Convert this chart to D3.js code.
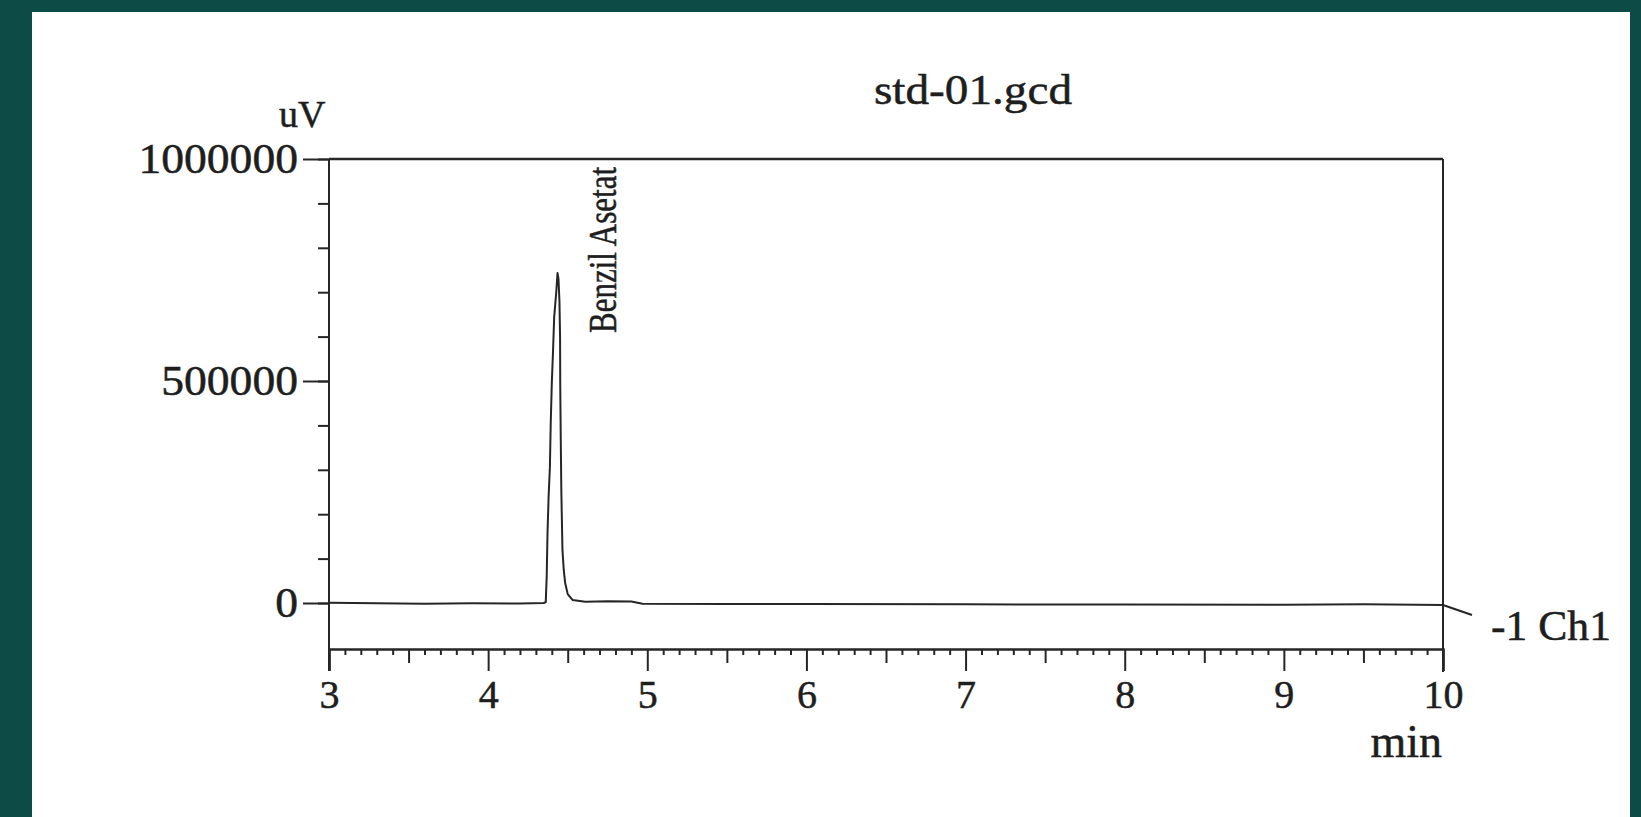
<!DOCTYPE html>
<html>
<head>
<meta charset="utf-8">
<script src="https://cdn.jsdelivr.net/npm/d3@7"></script>
<style>
  html, body { margin: 0; padding: 0; background: #0c4b46; }
  svg { display: block; }
  text { font-family: "Liberation Serif", "DejaVu Serif", serif; fill: #1e1e1e; stroke: #1e1e1e; stroke-width: 0.5; }
</style>
</head>
<body>
<svg id="chart" width="1641" height="817"></svg>
<script>
// ---- data ----
const chartTitle = "std-01.gcd";
const yUnit = "uV";
const xUnit = "min";
const channelLabel = "-1 Ch1";
const peakName = "Benzil Asetat";
const peakTime = 4.436;
const peakHeight = 743000;

const xMajorTicks = [3, 4, 5, 6, 7, 8, 9, 10];
const yMajorTicks = [0, 500000, 1000000];
const yMinorTicks = [0, 100000, 200000, 300000, 400000, 500000, 600000, 700000, 800000, 900000, 1000000];

const times = [3.00, 3.30, 3.60, 3.90, 4.20, 4.35, 4.362, 4.368, 4.373, 4.380, 4.388, 4.393, 4.400, 4.408, 4.415,
               4.428, 4.436, 4.442, 4.448, 4.452, 4.453, 4.456, 4.460, 4.467, 4.475, 4.484, 4.500, 4.530, 4.610,
               4.750, 4.900, 4.970, 5.50, 6.00, 7.00, 8.00, 9.00, 9.50, 10.00];
const signal = [500, -500, -1500, -500, -1000, 0, 2000, 60000, 157000, 240000, 306000, 400000, 495000, 570000, 644000,
                700000, 743000, 730000, 680000, 600000, 495000, 380000, 250000, 119000, 75000, 45000, 20000, 7000, 3000,
                4000, 3500, -1500, -2000, -2500, -3000, -3500, -4000, -3000, -4500];

// ---- drawing ----
const svg = d3.select("#chart");
svg.append("rect").attr("x", 0).attr("y", 0).attr("width", 1641).attr("height", 817).attr("fill", "#0c4b46");
svg.append("rect").attr("x", 32).attr("y", 12).attr("width", 1598).attr("height", 805).attr("fill", "#ffffff");

const x = d3.scaleLinear().domain([3, 10]).range([329, 1443]);
const y = d3.scaleLinear().domain([0, 1000000]).range([603, 159]);
const axisY = 649;
const ink = "#262626";

// top frame line and right frame line
svg.append("line").attr("x1", x(3)).attr("x2", x(10)).attr("y1", y(1000000)).attr("y2", y(1000000))
  .attr("stroke", ink).attr("stroke-width", 2.5);
svg.append("line").attr("x1", x(10)).attr("x2", x(10)).attr("y1", y(1000000)).attr("y2", axisY + 23)
  .attr("stroke", ink).attr("stroke-width", 2);

// y axis: minor ticks
const gyMinor = svg.append("g").attr("transform", `translate(${x(3)},0)`)
  .call(d3.axisLeft(y).tickValues(yMinorTicks).tickSize(11).tickFormat(""));
// y axis: major ticks with labels
const gyMajor = svg.append("g").attr("transform", `translate(${x(3)},0)`)
  .call(d3.axisLeft(y).tickValues(yMajorTicks).tickSize(26).tickPadding(5).tickFormat(d3.format("d")));
[gyMinor, gyMajor].forEach(g => {
  g.select(".domain").remove();
  g.selectAll(".tick line").attr("stroke", ink).attr("stroke-width", 2);
});
gyMajor.selectAll(".tick text").attr("font-size", 42).attr("font-family", "Liberation Serif")
  .attr("fill", "#1e1e1e")
  .attr("textLength", d => String(d).length * 22.8).attr("lengthAdjust", "spacingAndGlyphs");

// left frame line (y axis spine)
svg.append("line").attr("x1", x(3)).attr("x2", x(3)).attr("y1", y(1000000)).attr("y2", axisY + 22)
  .attr("stroke", ink).attr("stroke-width", 2);

// x axis (bottom)
const minorX = d3.range(30, 101).map(v => v / 10).filter(v => Math.abs(v * 2 - Math.round(v * 2)) > 1e-6);
const halfX = [3.5, 4.5, 5.5, 6.5, 7.5, 8.5, 9.5];
const gxMinor = svg.append("g").attr("transform", `translate(0,${axisY})`)
  .call(d3.axisBottom(x).tickValues(minorX).tickSize(6).tickFormat(""));
const gxHalf = svg.append("g").attr("transform", `translate(0,${axisY})`)
  .call(d3.axisBottom(x).tickValues(halfX).tickSize(14).tickFormat(""));
const gxMajor = svg.append("g").attr("transform", `translate(0,${axisY})`)
  .call(d3.axisBottom(x).tickValues(xMajorTicks).tickSize(22).tickPadding(9).tickFormat(d3.format("d")));
[gxMinor, gxHalf].forEach(g => g.select(".domain").remove());
gxMajor.select(".domain").attr("stroke", ink).attr("stroke-width", 2.5);
[gxMinor, gxHalf, gxMajor].forEach(g => g.selectAll(".tick line").attr("stroke", ink).attr("stroke-width", 2));
gxMajor.selectAll(".tick text").attr("font-size", 40).attr("font-family", "Liberation Serif").attr("fill", "#1e1e1e");

// trace
const pts = times.map((t, i) => [t, signal[i]]);
svg.append("path").datum(pts)
  .attr("fill", "none").attr("stroke", ink).attr("stroke-width", 2).attr("stroke-linejoin", "round")
  .attr("d", d3.line().x(d => x(d[0])).y(d => y(d[1])));

// leader line to channel label
const last = pts[pts.length - 1];
svg.append("line").attr("x1", x(last[0])).attr("y1", y(last[1]))
  .attr("x2", x(last[0]) + 29).attr("y2", y(last[1]) + 10)
  .attr("stroke", ink).attr("stroke-width", 2);
svg.append("text").attr("x", x(last[0]) + 48).attr("y", 640).attr("font-size", 42)
  .attr("textLength", 120).attr("lengthAdjust", "spacingAndGlyphs").text(channelLabel);

// axis unit labels
svg.append("text").attr("x", 279).attr("y", 127).attr("font-size", 38).text(yUnit);
svg.append("text").attr("x", 1442).attr("y", 757).attr("text-anchor", "end").attr("font-size", 46).text(xUnit);

// title
svg.append("text").attr("x", 874).attr("y", 104).attr("font-size", 43)
  .attr("textLength", 198).attr("lengthAdjust", "spacingAndGlyphs").text(chartTitle);

// peak label (rotated)
svg.append("text")
  .attr("transform", `translate(${x(peakTime) + 58},${y(0) - 270}) rotate(-90)`)
  .attr("font-size", 39).attr("textLength", 166).attr("lengthAdjust", "spacingAndGlyphs")
  .text(peakName);
</script>
</body>
</html>
